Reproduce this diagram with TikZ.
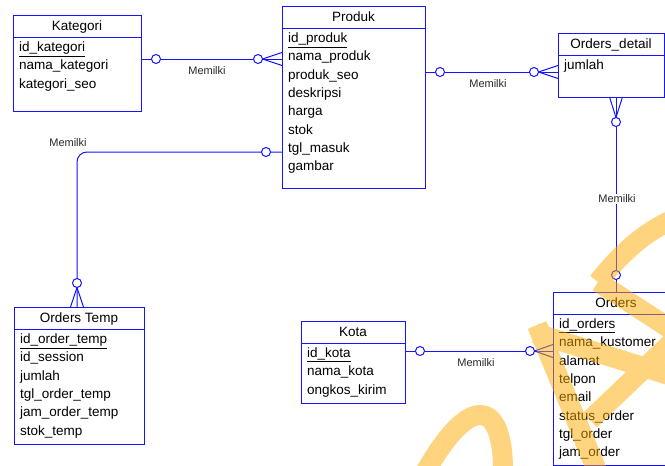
\documentclass[tikz,border=0pt]{standalone}
\usepackage{fontspec}
\setmainfont{Liberation Sans}
\usetikzlibrary{calc}
\definecolor{erblue}{RGB}{20,20,255}
\definecolor{wmorange}{RGB}{255,170,0}
\definecolor{reltext}{RGB}{40,40,40}

% fields of an entity, one row every 18.3pt below the header
\newcommand{\erfields}[2]{%
  \foreach \f [count=\i from 0] in {#2} {
    \node[fld] (#1-f\i) at ([xshift=6pt,yshift={-(36.5+\i*18.3)*1pt}]#1.north west) {\f};
  }}
% title and header rule of an entity
\newcommand{\erhead}[2]{%
  \node[ttl] (#1-title) at ([yshift=-15.5pt]#1.north) {#2};
  \draw[er] ([yshift=-22pt]#1.north west) -- ([yshift=-22pt]#1.north east);}

\begin{document}
\begin{tikzpicture}[x=1pt,y=-1pt,
  er/.style={draw=erblue, line width=1pt},
  box/.style={draw=erblue, line width=1pt, rectangle, anchor=north west,
    inner sep=0pt, outer sep=0pt},
  ttl/.style={anchor=base, inner sep=0pt, font=\fontsize{13.5}{16}\selectfont},
  fld/.style={anchor=base west, inner sep=0pt, font=\fontsize{13.5}{16}\selectfont},
  rel/.style={fill=white, inner sep=1pt, text=reltext, font=\fontsize{11}{13}\selectfont},
  opt/.style={draw=erblue, line width=1pt, fill=white},
  wm/.style={draw=wmorange, line width=20pt, opacity=0.5}]
\useasboundingbox (0,0) rectangle (665,466);

% entities
\node[box, minimum width=128pt, minimum height=96pt]  (kategori)     at (13,15)  {};
\node[box, minimum width=143pt, minimum height=182pt] (produk)       at (282,6)  {};
\node[box, minimum width=106pt, minimum height=64pt]  (ordersdetail) at (558,33) {};
\node[box, minimum width=130pt, minimum height=137pt] (orderstemp)   at (14,307) {};
\node[box, minimum width=104pt, minimum height=82pt]  (kota)         at (301,321){};
\node[box, minimum width=126pt, minimum height=173pt] (orders)       at (553,292){};

\erhead{kategori}{Kategori}
\erfields{kategori}{\underline{id\_kategori}, nama\_kategori, kategori\_seo}
\erhead{produk}{Produk}
\erfields{produk}{\underline{id\_produk}, nama\_produk, produk\_seo, deskripsi, harga, stok, tgl\_masuk, gambar}
\erhead{ordersdetail}{Orders\_detail}
\erfields{ordersdetail}{jumlah}
\erhead{orderstemp}{Orders Temp}
\erfields{orderstemp}{\underline{id\_order\_temp}, id\_session, jumlah, tgl\_order\_temp, jam\_order\_temp, stok\_temp}
\erhead{kota}{Kota}
\erfields{kota}{\underline{id\_kota}, nama\_kota, ongkos\_kirim}
\erhead{orders}{Orders}
\erfields{orders}{\underline{id\_orders}, nama\_kustomer, alamat, telpon, email, status\_order, tgl\_order, jam\_order}

% Kategori -- Produk
\coordinate (kpA) at (kategori.east |- 0,59);
\coordinate (kpB) at (produk.west |- 0,59);
\draw[er] (kpA) -- (kpB);
\draw[er] ($(kpB)+(-19.5,0)$) -- ($(kpB)+(0,-6.5)$) ($(kpB)+(-19.5,0)$) -- ($(kpB)+(0,6.5)$);
\draw[opt] ($(kpA)+(15,0)$) circle (4.5) ($(kpB)+(-24,0)$) circle (4.5);
\node[rel] (kpL) at (207,71) {Memilki};

% Produk -- Orders_detail
\coordinate (pdA) at (produk.east |- 0,72);
\coordinate (pdB) at (ordersdetail.west |- 0,72);
\draw[er] (pdA) -- (pdB);
\draw[er] ($(pdB)+(-19.5,0)$) -- ($(pdB)+(0,-6.5)$) ($(pdB)+(-19.5,0)$) -- ($(pdB)+(0,6.5)$);
\draw[opt] ($(pdA)+(15,0)$) circle (4.5) ($(pdB)+(-24,0)$) circle (4.5);
\node[rel] (pdL) at (488,84) {Memilki};

% Produk -- Orders Temp
\coordinate (ptA) at (produk.west |- 0,152);
\coordinate (ptB) at ($(orderstemp.north)+(-2,0)$);
\draw[er, rounded corners=10pt] (ptA) -| (ptB);
\draw[er] ($(ptB)+(0,-19.5)$) -- ($(ptB)+(-6.5,0)$) ($(ptB)+(0,-19.5)$) -- ($(ptB)+(6.5,0)$);
\draw[opt] ($(ptA)+(-16,0)$) circle (4.5) ($(ptB)+(0,-24)$) circle (4.5);
\node[rel] (ptL) at (68,143) {Memilki};

% Orders_detail -- Orders
\coordinate (ooA) at (ordersdetail.south -| orders.north);
\coordinate (ooB) at (orders.north);
\draw[er] (ooA) -- (ooB);
\draw[er] ($(ooA)+(0,20.5)$) -- ($(ooA)+(-6.5,0)$) ($(ooA)+(0,20.5)$) -- ($(ooA)+(6.5,0)$);
\draw[opt] ($(ooA)+(0,25)$) circle (4.5) ($(ooB)+(0,-17)$) circle (4.5);
\node[rel] (ooL) at (617,199) {Memilki};

% Kota -- Orders
\coordinate (koA) at (kota.east |- 0,351);
\coordinate (koB) at (orders.west |- 0,351);
\draw[er] (koA) -- (koB);
\draw[er] ($(koB)+(-18.5,0)$) -- ($(koB)+(0,-6.5)$) ($(koB)+(-18.5,0)$) -- ($(koB)+(0,6.5)$);
\draw[opt] ($(koA)+(15,0)$) circle (4.5) ($(koB)+(-23,0)$) circle (4.5);
\node[rel] (koL) at (476,363) {Memilki};

% translucent watermark strokes
\draw[wm] (422,478) .. controls (470,390) and (505,398) .. (503,478)
  (537,325) -- (600,478)
  (535,333) -- (672,376)
  (590,420) -- (672,342)
  (598,282) .. controls (622,252) and (645,232) .. (672,220)
  (598,282) -- (672,330);
\end{tikzpicture}
\end{document}
